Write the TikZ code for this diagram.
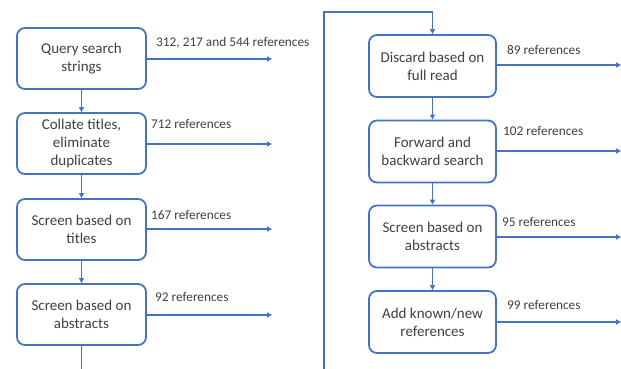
\documentclass[tikz,border=0pt]{standalone}
\usepackage{fontspec}
\setmainfont{Carlito}
\usetikzlibrary{arrows.meta}
\definecolor{flow}{HTML}{4472C4}
\definecolor{txt}{HTML}{404040}
\tikzset{
  stage/.style={draw=flow, line width=1.8pt, rounded corners=8pt, fill=white,
    align=center, inner sep=0pt, text=txt, font=\fontsize{15}{18}\selectfont},
  lstage/.style={stage, minimum width=129pt, minimum height=61pt},
  rstage/.style={stage, minimum width=127pt, minimum height=62pt},
  link/.style={draw=flow, line width=1.4pt},
  flowarrow/.style={link, -{Triangle[length=5pt,width=5pt]}},
  count/.style={anchor=west, inner sep=0pt, text=txt, font=\fontsize{13.3}{15}\selectfont}
}
\begin{document}
\begin{tikzpicture}[x=1pt, y=-1pt]
\useasboundingbox (0,0) rectangle (621,369);
\begin{scope}
\clip (0,0) rectangle (621,369);

% left column
\node[lstage] (q)  at (81.5,58.5)  {Query search\\strings};
\node[lstage] (c)  at (81.5,143.5) {Collate titles,\\eliminate\\duplicates};
\node[lstage] (st) at (81.5,229.5) {Screen based on\\titles};
\node[lstage] (sa) at (81.5,314.5) {Screen based on\\abstracts};

% right column
\node[rstage] (d)  at (432.5,66)    {Discard based on\\full read};
\node[rstage] (f)  at (432.5,151.5) {Forward and\\backward search};
\node[rstage] (s2) at (432.5,236.5) {Screen based on\\abstracts};
\node[rstage] (a)  at (432.5,322)   {Add known/new\\references};

% arrow end points
\coordinate (qe)  at (272,59);
\coordinate (ce)  at (272,144);
\coordinate (ste) at (272,229);
\coordinate (sae) at (272,315);
\coordinate (de)  at (621,65);
\coordinate (fe)  at (621,151);
\coordinate (s2e) at (621,237);
\coordinate (ae)  at (621,322);

\foreach \n/\e in {q/qe, c/ce, st/ste, sa/sae}
  \draw[flowarrow] (\n.east |- \e) -- (\e);
\foreach \n/\e in {d/de, f/fe, s2/s2e, a/ae}
  \draw[flowarrow] (\n.east |- \e) -- (\e);

% vertical flow
\draw[flowarrow] (q) -- (c);
\draw[flowarrow] (c) -- (st);
\draw[flowarrow] (st) -- (sa);
\coordinate (lb) at (81.5,375);
\draw[link] (sa) -- (lb);

\coordinate (rb) at (324,375);
\coordinate (rt) at (324,12);
\draw[flowarrow] (rb) -- (rt) -| (d.north);
\draw[flowarrow] (d) -- (f);
\draw[flowarrow] (f) -- (s2);
\draw[flowarrow] (s2) -- (a);

% counts
\node[count] (lq)  at (156,43)  {312, 217 and 544 references};
\node[count] (lc)  at (151,124) {712 references};
\node[count] (lst) at (151,215) {167 references};
\node[count] (lsa) at (155,297) {92 references};
\node[count] (ld)  at (507,50)  {89 references};
\node[count] (lf)  at (503,131) {102 references};
\node[count] (ls2) at (502,222) {95 references};
\node[count] (la)  at (507,305) {99 references};
\end{scope}
\end{tikzpicture}
\end{document}
